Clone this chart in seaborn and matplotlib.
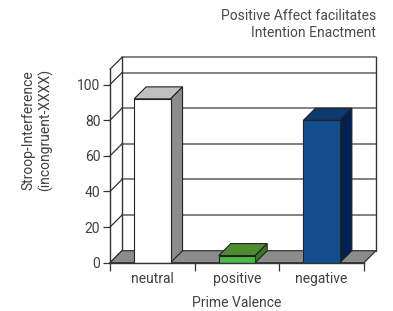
import matplotlib
matplotlib.use("Agg")
import matplotlib.pyplot as plt
import matplotlib.transforms as mtransforms
from matplotlib.patches import Polygon
import pandas as pd
import seaborn as sns

# data
categories = ["neutral", "positive", "negative"]
values = [92, 4, 80]
front_colors = ["#ffffff", "#4cb848", "#134f8f"]
top_colors = ["#c0c0c0", "#4f8c2f", "#0c3a70"]
side_colors = ["#8c8c8c", "#3e7626", "#03214f"]
y_ticks = [0, 20, 40, 60, 80, 100]
y_max = 108.6

sns.set_theme(style="white")
plt.rcParams["font.family"] = ["Roboto", "DejaVu Sans"]

DX, DY = 12, 12  # depth of the fake 3d box in pixels
ink = "#333333"
txt = "#404040"

fig = plt.figure(figsize=(3.93, 3.11), dpi=100)
ax = fig.add_axes([110 / 393, 1 - 262.7 / 311, 254 / 393, (262.7 - 69.3) / 311])
df = pd.DataFrame({"valence": categories, "value": values})
sns.barplot(data=df, x="valence", y="value", hue="valence", palette=front_colors,
            width=0.43, saturation=1, edgecolor="#222222", linewidth=0.8,
            legend=False, ax=ax, zorder=5)
bars = list(ax.patches)
ax.set_xlim(-0.5, 2.5)
ax.set_ylim(0, y_max)
ax.patch.set_visible(False)


def px(x, y, d=0):
    p = ax.transData.transform((x, y))
    return (p[0] + d * DX, p[1] + d * DY)


ident = mtransforms.IdentityTransform()

# back wall
wall = Polygon([px(-0.5, 0, 1), px(2.5, 0, 1), px(2.5, y_max, 1), px(-0.5, y_max, 1)],
               closed=True, transform=ident, facecolor="white", edgecolor="none", zorder=0)
ax.add_patch(wall)
for t in y_ticks[1:] + [y_max]:
    a, b = px(-0.5, t, 1), px(2.5, t, 1)
    ax.add_line(plt.Line2D([a[0], b[0]], [a[1], b[1]], transform=ident,
                           color="#808080", lw=1.4, zorder=1, clip_on=False))
for x in [-0.5, 2.5]:
    a, b = px(x, 0, 1), px(x, y_max, 1)
    ax.add_line(plt.Line2D([a[0], b[0]], [a[1], b[1]], transform=ident,
                           color=ink, lw=1.0, zorder=1, clip_on=False))
# left wall diagonals
for t in y_ticks + [y_max]:
    a, b = px(-0.5, t, 0), px(-0.5, t, 1)
    ax.add_line(plt.Line2D([a[0], b[0]], [a[1], b[1]], transform=ident,
                           color=ink, lw=0.9, zorder=1, clip_on=False))

# floor
floor = Polygon([px(-0.5, 0, 0), px(2.5, 0, 0), px(2.5, 0, 1), px(-0.5, 0, 1)],
                closed=True, transform=ident, facecolor="#8c8c8c", edgecolor=ink,
                lw=0.9, zorder=2, clip_on=False)
ax.add_patch(floor)

# bar tops and sides
for bar, tc, sc in zip(bars, top_colors, side_colors):
    x0 = bar.get_x()
    x1 = x0 + bar.get_width()
    h = bar.get_height()
    top = Polygon([px(x0, h, 0), px(x1, h, 0), px(x1, h, 1), px(x0, h, 1)], closed=True,
                  transform=ident, facecolor=tc, edgecolor="#222222", lw=0.8, zorder=4,
                  clip_on=False)
    side = Polygon([px(x1, 0, 0), px(x1, h, 0), px(x1, h, 1), px(x1, 0, 1)], closed=True,
                   transform=ident, facecolor=sc, edgecolor="#222222", lw=0.8, zorder=4,
                   clip_on=False)
    ax.add_patch(top)
    ax.add_patch(side)

# spines and ticks
for s in ["top", "right"]:
    ax.spines[s].set_visible(False)
for s in ["left", "bottom"]:
    ax.spines[s].set_color(ink)
    ax.spines[s].set_linewidth(1.0)
    ax.spines[s].set_zorder(6)

ax.set_yticks(y_ticks)
ax.set_xticks([-0.5, 0.5, 1.5, 2.5])
ax.set_xticklabels([])
ax.set_xticks([0, 1, 2], minor=True)
ax.set_xticklabels(categories, minor=True)
ax.tick_params(axis="y", left=True, direction="out", length=5, width=0.9, color=ink,
               labelsize=10, labelcolor=txt, pad=2)
ax.tick_params(axis="x", which="major", bottom=True, direction="out", length=6,
               width=0.9, color=ink)
ax.tick_params(axis="x", which="minor", bottom=True, length=0, labelsize=10,
               labelcolor=txt, pad=7)

ax.set_xlabel("Prime Valence", fontsize=10, color=txt, labelpad=7)
ax.set_ylabel("Stroop-Interference\n(incongruent-XXXX)", fontsize=10, color=txt)
ax.yaxis.set_label_coords(-0.222, 0.686)

fig.text(376 / 393, 1 - 9 / 311, "Positive Affect facilitates\nIntention Enactment",
         ha="right", va="top", fontsize=10, color="#4a4a4a", linespacing=1.3)

fig.savefig("out.png", dpi=100)
